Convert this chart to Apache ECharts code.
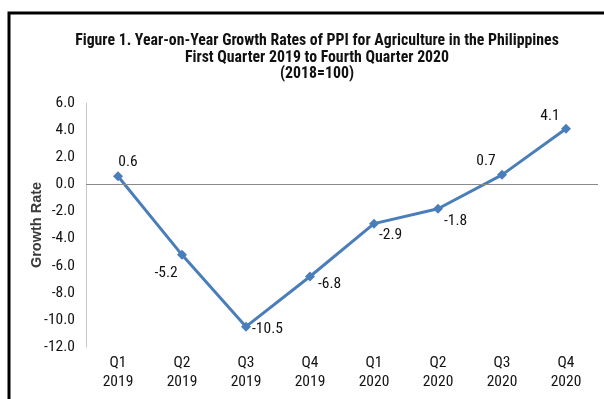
<!DOCTYPE html>
<html>
<head>
<meta charset="utf-8">
<script src="https://cdn.jsdelivr.net/npm/echarts@6/dist/echarts.min.js"></script>
<style>
html,body{margin:0;padding:0;background:#fff;}
#chart{width:604px;height:399px;}
</style>
</head>
<body>
<div id="chart"></div>
<script>
var categories = ['Q1\n2019','Q2\n2019','Q3\n2019','Q4\n2019','Q1\n2020','Q2\n2020','Q3\n2020','Q4\n2020'];
var growthRates = [0.6, -5.2, -10.5, -6.8, -2.9, -1.8, 0.7, 4.1];
var yTicks = {min: -12, max: 6, interval: 2};
var titleLines = ['Figure 1. Year-on-Year Growth Rates of PPI for Agriculture in the Philippines','First Quarter 2019 to Fourth Quarter 2020','(2018=100)'];

var FONT = '"Roboto Condensed", "Liberation Sans Narrow", "DejaVu Sans Condensed", sans-serif';
var labelStyles = [
  {position:'top', offset:[10,4]},
  {position:'bottom', offset:[-16,0]},
  {position:'right', offset:[-4,2]},
  {position:'right', offset:[-2,8]},
  {position:'right', offset:[-5,11]},
  {position:'right', offset:[-4,12]},
  {position:'top', offset:[-16,4]},
  {position:'top', offset:[-16,5]}
];

var chart = echarts.init(document.getElementById('chart'), null, {renderer:'canvas'});
var option = {
  backgroundColor:'#fff',
  animation:false,
  title:{
    text: titleLines.join('\n'),
    left: 312, top: 28, textAlign:'center',
    textStyle:{fontFamily:FONT, fontWeight:'bold', fontSize:15.8, lineHeight:16.5, color:'#111'}
  },
  grid:{left:86, right:6, top:103, bottom:52},
  xAxis:{
    type:'category', data:categories, boundaryGap:true,
    axisLine:{show:false, onZero:false},
    axisTick:{show:false},
    axisLabel:{fontFamily:FONT, fontSize:15.5, lineHeight:19, color:'#111', margin:7, interval:0}
  },
  yAxis:{
    type:'value', min:yTicks.min, max:yTicks.max, interval:yTicks.interval,
    name:'Growth Rate', nameLocation:'middle', nameGap:42, nameRotate:90, nameMoveOverlap:false,
    nameTextStyle:{fontFamily:'"Liberation Sans", Arial, sans-serif', fontWeight:'bold', fontSize:14.5, color:'#3a3a3a'},
    axisLine:{show:true, lineStyle:{color:'#c8c8c8', width:1}},
    axisTick:{show:false},
    splitLine:{show:false},
    axisLabel:{fontFamily:FONT, fontSize:15.5, color:'#111', margin:11, formatter:function(v){return v.toFixed(1);}}
  },
  series:[{
    type:'line',
    data: growthRates.map(function(v,i){
      return {value:v, label:{position:labelStyles[i].position, offset:labelStyles[i].offset}};
    }),
    symbol:'diamond', symbolSize:10,
    lineStyle:{color:'#4a7ebb', width:3},
    itemStyle:{color:'#4a7ebb'},
    label:{show:true, fontFamily:FONT, fontSize:15.5, color:'#111', formatter:function(p){return p.value.toFixed(1);}},
    markLine:{
      silent:true, symbol:'none', label:{show:false},
      lineStyle:{color:'#8a8a8a', width:1, type:'solid'},
      data:[{yAxis:0}]
    },
    z:3
  }],
  graphic:[{
    type:'polyline', silent:true,
    shape:{points:[[9,399],[9,13],[604,13]]},
    style:{stroke:'#000', lineWidth:3, fill:null}
  }]
};
chart.setOption(option);
</script>
</body>
</html>
